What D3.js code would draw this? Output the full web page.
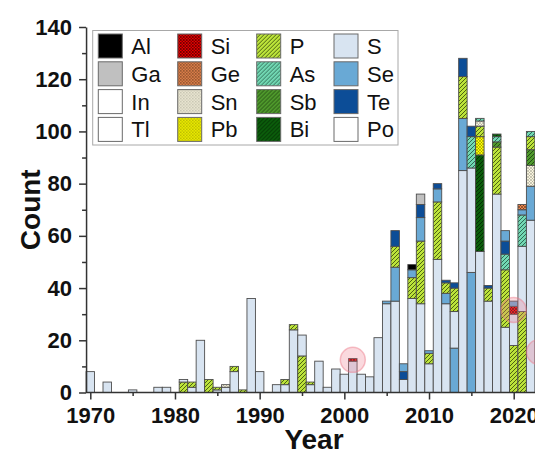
<!DOCTYPE html>
<html>
<head>
<meta charset="utf-8">
<script src="https://cdn.jsdelivr.net/npm/d3@7"></script>
<style>
  body { margin: 0; background: #fff; }
  svg { font-family: Arial, "Liberation Sans", sans-serif; display: block; }
</style>
</head>
<body>
<div id="chart"></div>
<script>
const WIDTH = 535;
const HEIGHT = 455;

// element order as in the legend (column by column)
const elements = ["Al", "Ga", "In", "Tl", "Si", "Ge", "Sn", "Pb", "P", "As", "Sb", "Bi", "S", "Se", "Te", "Po"];
const years = d3.range(1970, 2023);

// counts per element, [year, count]; years not listed are 0
const countsAl = [[2008, 2]];
const countsGa = [[2009, 4]];
const countsIn = [];
const countsTl = [];
const countsSi = [[2001, 1], [2020, 3]];
const countsGe = [[2021, 2]];
const countsSn = [[1986, 1], [2016, 2], [2022, 8]];
const countsPb = [[2016, 7]];
const countsP = [[1981, 4], [1982, 2], [1984, 5], [1985, 1], [1987, 2], [1988, 1], [1993, 2], [1994, 2],
  [1995, 14], [1996, 1], [2006, 8], [2008, 8], [2009, 24], [2010, 4], [2011, 22], [2012, 4], [2013, 9],
  [2014, 16], [2016, 4], [2017, 5], [2018, 18], [2019, 22], [2020, 18], [2021, 31], [2022, 5]];
const countsAs = [[2015, 12], [2016, 1], [2018, 2], [2019, 6], [2021, 12], [2022, 2]];
const countsSb = [[2018, 2], [2022, 6]];
const countsBi = [[2016, 37], [2018, 1]];
const countsS = [[1970, 8], [1972, 4], [1975, 1], [1978, 2], [1979, 2], [1981, 1], [1982, 2], [1983, 20],
  [1985, 1], [1986, 2], [1987, 8], [1989, 36], [1990, 8], [1992, 3], [1993, 3], [1994, 24], [1995, 8],
  [1996, 3], [1997, 12], [1998, 2], [1999, 9], [2000, 7], [2001, 12], [2002, 7], [2003, 6], [2004, 21],
  [2005, 34], [2006, 35], [2007, 5], [2008, 36], [2009, 34], [2010, 11], [2011, 51], [2012, 34], [2013, 14],
  [2014, 85], [2015, 40], [2016, 54], [2017, 35], [2018, 76], [2019, 25], [2020, 12], [2021, 25], [2022, 66]];
const countsSe = [[2005, 1], [2006, 13], [2007, 3], [2008, 3], [2009, 9], [2010, 1], [2011, 5], [2012, 4],
  [2013, 17], [2014, 20], [2015, 46], [2019, 4], [2020, 2], [2021, 2], [2022, 13]];
const countsTe = [[2006, 6], [2007, 3], [2009, 5], [2011, 2], [2012, 1], [2013, 2], [2014, 7], [2015, 4],
  [2017, 1], [2019, 5]];
const countsPo = [];

// highlighted spots (year, count)
const marks = [[2001, 12.5], [2020, 31.6], [2023, 15.5]];

const yTicks = [0, 20, 40, 60, 80, 100, 120, 140];
const xTicks = [1970, 1980, 1990, 2000, 2010, 2020];

const allCounts = {
  Al: countsAl, Ga: countsGa, In: countsIn, Tl: countsTl, Si: countsSi, Ge: countsGe, Sn: countsSn,
  Pb: countsPb, P: countsP, As: countsAs, Sb: countsSb, Bi: countsBi, S: countsS, Se: countsSe,
  Te: countsTe, Po: countsPo
};

// fill styles: plain, mesh (cross) or hatch (diagonal)
const STYLE = {
  Al: { color: "#000000" }, Ga: { color: "#c0c0c0" }, In: { color: "#ffffff" }, Tl: { color: "#ffffff" },
  Si: { color: "#f20000", mesh: "#2a0000", w: 0.6 }, Ge: { color: "#ec8850", mesh: "#4a2a15", w: 0.5 },
  Sn: { color: "#f8f3de", mesh: "#9a9a8a", w: 0.5 }, Pb: { color: "#ffff00", mesh: "#5a5a00", w: 0.4 },
  P: { color: "#bce43a", hatch: "#1d2a00" }, As: { color: "#72d9b4", hatch: "#123a2c" },
  Sb: { color: "#4f9a2c", hatch: "#102a08" }, Bi: { color: "#0b5e0b", hatch: "#001a00" },
  S: { color: "#d8e4f1" }, Se: { color: "#69a9d5" }, Te: { color: "#0c4d97" }, Po: { color: "#ffffff" }
};

const svg = d3.select("#chart").append("svg")
  .attr("width", WIDTH)
  .attr("height", HEIGHT);

const defs = svg.append("defs");
elements.forEach(el => {
  const st = STYLE[el];
  if (!st.mesh && !st.hatch) return;
  const size = st.mesh ? 3 : 4;
  const p = defs.append("pattern")
    .attr("id", "pat-" + el)
    .attr("patternUnits", "userSpaceOnUse")
    .attr("width", size).attr("height", size);
  p.append("rect").attr("width", size).attr("height", size).attr("fill", st.color);
  if (st.mesh) {
    p.append("path").attr("d", "M0,0L3,3M3,0L0,3")
      .attr("stroke", st.mesh).attr("stroke-width", st.w);
  } else {
    p.append("path").attr("d", "M0,4L4,0M-1,1L1,-1M3,5L5,3")
      .attr("stroke", st.hatch).attr("stroke-width", 0.7);
  }
});
const fillOf = el => (STYLE[el].mesh || STYLE[el].hatch) ? "url(#pat-" + el + ")" : STYLE[el].color;

// scales
const x = d3.scaleLinear().domain([1970, 2020]).range([90.3, 513.7]);
const y = d3.scaleLinear().domain([0, 140]).range([392.5, 27]);
const AXIS_X = x(1969.5);
const barW = x(1971) - x(1970);

// per year: largest count at the bottom
const segments = [];
years.forEach(yr => {
  const parts = elements.map((el, i) => {
    const hit = allCounts[el].find(d => d[0] === yr);
    return { el, i, value: hit ? hit[1] : 0 };
  }).filter(d => d.value > 0);
  parts.sort((a, b) => b.value - a.value || b.i - a.i);
  let base = 0;
  parts.forEach(d => {
    segments.push({ year: yr, el: d.el, y0: base, y1: base + d.value });
    base += d.value;
  });
});

svg.append("g").selectAll("rect")
  .data(segments)
  .join("rect")
    .attr("x", d => x(d.year) - barW / 2)
    .attr("width", barW)
    .attr("y", d => y(d.y1))
    .attr("height", d => y(d.y0) - y(d.y1))
    .attr("fill", d => fillOf(d.el))
    .attr("stroke", "#4d4d4d")
    .attr("stroke-width", 0.9);

// highlight circles
svg.append("g").selectAll("circle")
  .data(marks)
  .join("circle")
    .attr("cx", d => x(d[0]))
    .attr("cy", d => y(d[1]))
    .attr("r", 12.5)
    .attr("fill", "rgba(238,120,135,0.28)")
    .attr("stroke", "rgba(238,120,135,0.45)")
    .attr("stroke-width", 1.5);

// axes
const axisColor = "#333";
const yAxis = svg.append("g")
  .attr("transform", "translate(" + AXIS_X + ",0)")
  .call(d3.axisLeft(y).tickValues(yTicks).tickSize(7).tickSizeOuter(0).tickPadding(7));
yAxis.selectAll(".tick text").attr("font-size", "22px").attr("font-weight", "bold").attr("fill", "#111")
  .attr("font-family", "Arial, 'Liberation Sans', sans-serif");
svg.append("g")
  .attr("transform", "translate(" + AXIS_X + ",0)")
  .call(d3.axisLeft(y).tickValues(d3.range(10, 140, 20)).tickSize(4).tickFormat(""))
  .call(g => g.select(".domain").remove());

const xAxis = svg.append("g")
  .attr("transform", "translate(0," + y(0) + ")")
  .call(d3.axisBottom(x).tickValues(xTicks).tickSize(7).tickPadding(8).tickFormat(d3.format("d")))
  .call(g => g.select(".domain").remove());
xAxis.selectAll(".tick text").attr("font-size", "22px").attr("font-weight", "bold").attr("fill", "#111")
  .attr("font-family", "Arial, 'Liberation Sans', sans-serif");
svg.append("g")
  .attr("transform", "translate(0," + y(0) + ")")
  .call(d3.axisBottom(x).tickValues(d3.range(1975, 2030, 10)).tickSize(3.5).tickFormat(""))
  .call(g => g.select(".domain").remove());
svg.append("line")
  .attr("x1", AXIS_X).attr("x2", WIDTH)
  .attr("y1", y(0)).attr("y2", y(0));
svg.selectAll("line, .domain").attr("stroke", axisColor).attr("stroke-width", 1.5);

// axis titles
svg.append("text")
  .attr("transform", "translate(40," + (y(0) + y(140)) / 2 + ") rotate(-90)")
  .attr("text-anchor", "middle")
  .attr("font-size", "28px").attr("font-weight", "bold").attr("fill", "#111")
  .text("Count");
svg.append("text")
  .attr("x", 314).attr("y", 449)
  .attr("text-anchor", "middle")
  .attr("font-size", "28px").attr("font-weight", "bold").attr("fill", "#111")
  .text("Year");

// legend
const legend = svg.append("g");
legend.append("rect")
  .attr("x", 92.7).attr("y", 30.5)
  .attr("width", 305.3).attr("height", 114.5)
  .attr("fill", "#fff").attr("stroke", "#a8a8a8").attr("stroke-width", 1);
const colX = [98.3, 177.7, 256.7, 334];
const rowY = [34, 61.8, 89.6, 117.4];
const item = legend.selectAll("g.item")
  .data(elements)
  .join("g")
    .attr("class", "item")
    .attr("transform", (d, i) => "translate(" + colX[Math.floor(i / 4)] + "," + rowY[i % 4] + ")");
item.append("rect")
  .attr("width", 24).attr("height", 24)
  .attr("fill", d => fillOf(d))
  .attr("stroke", "#6a6a6a").attr("stroke-width", 1);
item.append("text")
  .attr("x", 33).attr("y", 20)
  .attr("font-size", "22px").attr("fill", "#111")
  .text(d => d);
</script>
</body>
</html>
